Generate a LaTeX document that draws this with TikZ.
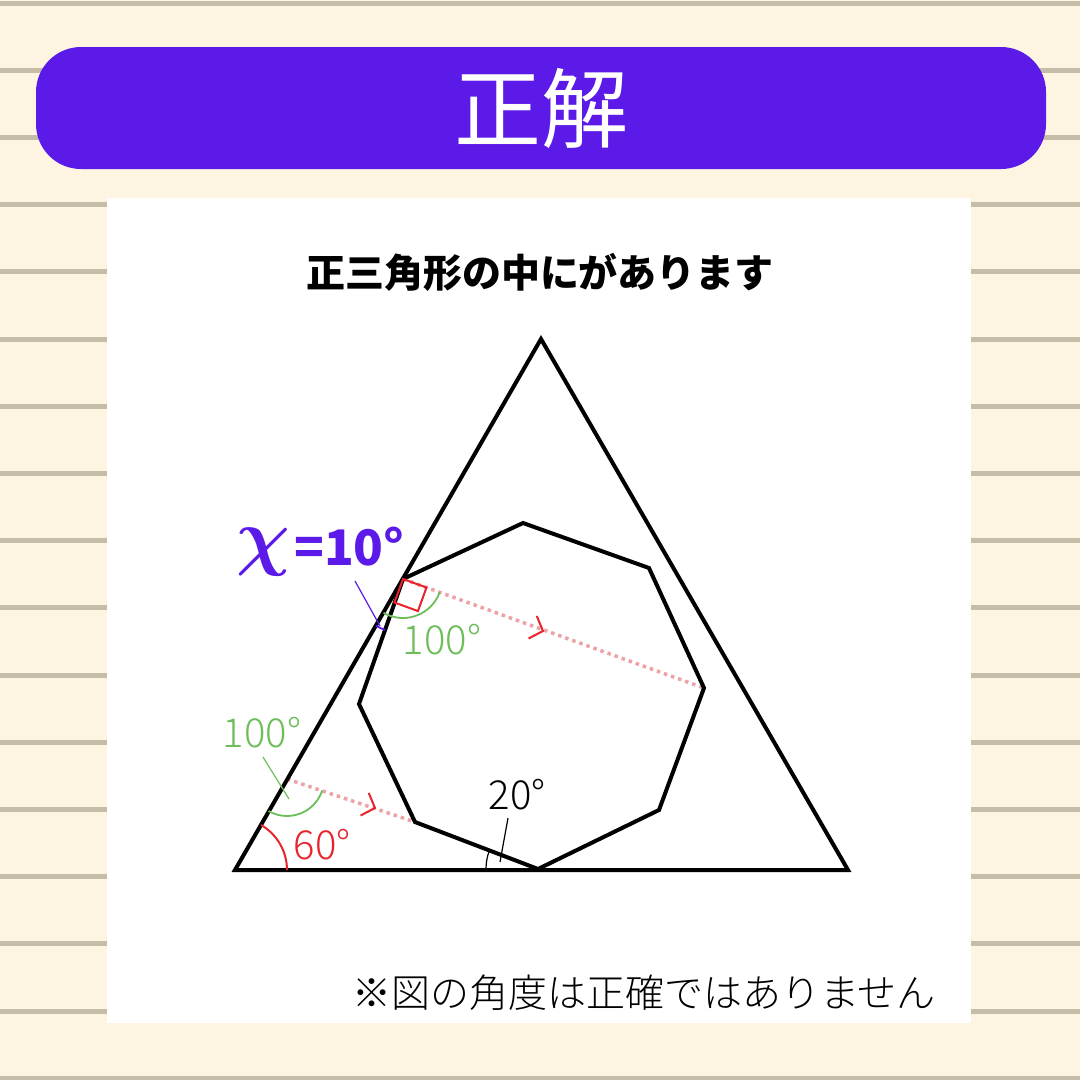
\documentclass[tikz,border=0pt]{standalone}
\usepackage{fontspec}
\newfontfamily\jp{Noto Sans CJK JP}
\IfFontExistsTF{Noto Sans CJK JP Light}{\newfontfamily\jpl{Noto Sans CJK JP Light}}{\newfontfamily\jpl{Noto Sans CJK JP}}
\usetikzlibrary{calc}
\definecolor{bgc}{HTML}{FDF5E1}
\definecolor{rulec}{HTML}{C6BDA9}
\definecolor{hdr}{HTML}{5B1AE8}
\definecolor{grn}{HTML}{6DBE5B}
\definecolor{rd}{HTML}{E8232B}
\definecolor{pnk}{HTML}{EDA2A6}
\begin{document}
\begin{tikzpicture}[x=1pt,y=-1pt,
  blk/.style={line width=4, black},
  dotl/.style={pnk, line width=3.5, dash pattern=on 3.5pt off 4pt},
  chev/.style={rd, line width=2},
  grnl/.style={grn, line width=1.8},
  rdl/.style={rd, line width=2},
  lbl/.style={font=\jpl\fontsize{40}{40}\selectfont, inner sep=0}]
\useasboundingbox (0,0) rectangle (1080,1080);
\fill[bgc] (0,0) rectangle (1080,1080);
\foreach \i in {0,...,16} \draw[rulec, line width=5] (0,{3+67.2*\i}) -- (1080,{3+67.2*\i});
% header
\fill[hdr, rounded corners=45] (36,47) rectangle (1046,169);
\node[text=white, font=\jp\fontsize{87}{87}\selectfont, inner sep=0] (hd) at (541,108) {正解};
% panel
\fill[white] (107,198) rectangle (971,1023);
\node[font=\jp\bfseries\fontsize{39}{39}\selectfont, inner sep=0] (title) at (540,272) {正三角形の中にがあります};
\node[font=\jpl\fontsize{39}{39}\selectfont, inner sep=0] (foot) at (644,993) {※図の角度は正確ではありません};
% points
\coordinate (A) at (235,870);
\coordinate (B) at (848,870);
\coordinate (C) at (541,339);
\coordinate (O1) at (523,523);
\coordinate (O2) at (649,568);
\coordinate (O3) at (704,688);
\coordinate (O4) at (659,810);
\coordinate (O5) at (538,869);
\coordinate (O6) at (415,822);
\coordinate (O7) at (359,704);
\coordinate (O8) at (403,579);
\coordinate (D) at (287,779);
% dotted parallels
\draw[dotl] (O8) -- (O3);
\draw[dotl] (D) -- (O6);
% chevrons
\draw[chev, shift={(543,631)}, rotate=-20] (-11,-12) -- (0,0) -- (-11,12);
\draw[chev, shift={(375,808)}, rotate=-20] (-11,-12) -- (0,0) -- (-11,12);
% shapes
\draw[blk] (A) -- (B) -- (C) -- cycle;
\draw[blk] (O1) -- (O2) -- (O3) -- (O4) -- (O5) -- (O6) -- (O7) -- (O8) -- cycle;
% right angle mark
\draw[rdl] (O8) -- ++(20:25) -- ++(110:25) -- ++(200:25) -- cycle;
% angle arcs
\draw[grnl] (O8) ++(20:39) arc[start angle=20, end angle=120, radius=39];
\draw[grnl] (D) ++(120:37) arc[start angle=120, end angle=18, radius=37];
\draw[rdl] (A) ++(0:52) arc[start angle=0, end angle=-60, radius=52];
\draw[black, line width=1.2] (O5) ++(180:52) arc[start angle=180, end angle=200.5, radius=52];
\draw[hdr, line width=1.8] (O8) ++(109.4:54) arc[start angle=109.4, end angle=120, radius=54];
% labels
\node[lbl, text=grn] (g1) at (442,640) {100°};
\node[lbl, text=grn] (g2) at (262,733) {100°};
\node[lbl, text=rd] (r1) at (322,845) {60°};
\node[lbl, text=black] (k1) at (517,795) {20°};
\coordinate (g2l) at (289,799);
\coordinate (k1l) at (500,862);
\coordinate (xl) at (380,626);
\draw[grn, line width=1.2] (263,757) -- (g2l);
\draw[black, line width=1.2] (508,818) -- (k1l);
\draw[hdr, line width=1.2] (355,581) -- (xl);
\node[text=hdr, inner sep=0, anchor=base] (xv) at (263,561) {\scalebox{7.5}{\boldmath$\chi$}};
\node[text=hdr, font=\jp\bfseries\fontsize{49}{49}\selectfont, inner sep=0, anchor=base west] (xe) at (294,565) {=10°};
\end{tikzpicture}
\end{document}
